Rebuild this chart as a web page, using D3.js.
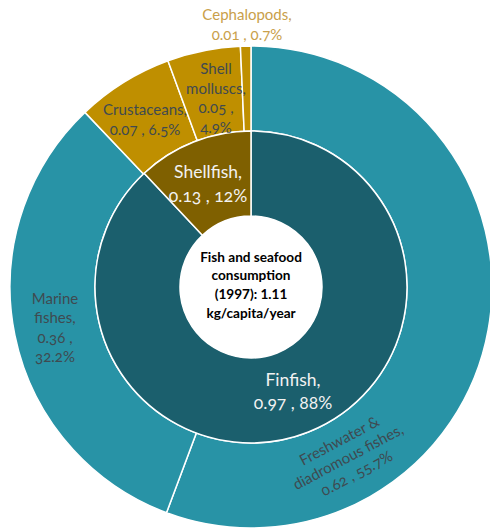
<!DOCTYPE html>
<html>
<head>
<meta charset="utf-8">
<script src="https://cdn.jsdelivr.net/npm/d3@7"></script>
<style>
  html, body { margin: 0; padding: 0; background: #ffffff; }
  svg { display: block; }
  .ring-label { font-variant-numeric: oldstyle-nums; }
</style>
</head>
<body>
<svg id="chart" width="490" height="531"></svg>
<script>
// Inner ring: main groups
const groups = ["Finfish", "Shellfish"];
const groupValues = [0.97, 0.13];
const groupShares = ["88%", "12%"];

// Outer ring: species groups, in the same clockwise order
const species = ["Freshwater & diadromous fishes", "Marine fishes", "Crustaceans", "Shell molluscs", "Cephalopods"];
const speciesValues = [0.62, 0.36, 0.07, 0.05, 0.01];
const speciesShares = [55.7, 32.2, 6.5, 4.9, 0.7];

const centerTitle = ["Fish and seafood", "consumption", "(1997): 1.11", "kg/capita/year"];

const groupColors = ["#1B5F6D", "#7F6000"];
const speciesColors = ["#2893A6", "#2893A6", "#BF8F00", "#BF8F00", "#BF8F00"];

const svg = d3.select("#chart");
const cx = 251, cy = 287;
const g = svg.append("g").attr("transform", `translate(${cx},${cy})`);

const rHole = 71, rInner = 156, rOuter = 241;

// Inner ring sized by percentage share
const innerPie = d3.pie().sort(null).value((d, i) => parseFloat(groupShares[i]));
const innerArcs = innerPie(groups);
const innerArc = d3.arc().innerRadius(rHole).outerRadius(rInner);

// Outer ring sized by percentage share
const outerPie = d3.pie().sort(null).value((d, i) => speciesShares[i]);
const outerArcs = outerPie(species);
const outerArc = d3.arc().innerRadius(rInner).outerRadius(rOuter);

g.selectAll("path.outer").data(outerArcs).join("path")
  .attr("class", "outer")
  .attr("d", outerArc)
  .attr("fill", (d, i) => speciesColors[i])
  .attr("stroke", "#ffffff")
  .attr("stroke-width", 1.5);

g.selectAll("path.inner").data(innerArcs).join("path")
  .attr("class", "inner")
  .attr("d", innerArc)
  .attr("fill", (d, i) => groupColors[i])
  .attr("stroke", "#ffffff")
  .attr("stroke-width", 1.5);

// Centre hole
g.append("circle").attr("r", rHole).attr("fill", "#ffffff");

const font = "Lato, 'Open Sans', sans-serif";

function block(x, y, lines, opts) {
  const t = svg.append("text")
    .attr("class", opts.cls || null)
    .attr("transform", `translate(${x},${y})` + (opts.rotate ? ` rotate(${opts.rotate})` : ""))
    .attr("text-anchor", "middle")
    .attr("font-family", font)
    .attr("font-size", opts.size)
    .attr("font-weight", opts.weight || "normal")
    .attr("fill", opts.color);
  const lh = opts.lh;
  const start = -(lines.length - 1) * lh / 2;
  lines.forEach((ln, i) => {
    t.append("tspan")
      .attr("x", 0)
      .attr("y", start + i * lh)
      .attr("dy", "0.35em")
      .text(ln);
  });
  return t;
}

const fmt = v => v.toFixed(2);
const outerLabel = "#3F4A50";

// Centre title
block(cx, 285, centerTitle, { size: 13.6, weight: "bold", color: "#000000", lh: 18.7 });

// Inner ring labels
block(293, 391, [groups[0] + ",", `${fmt(groupValues[0])} , ${groupShares[0]}`], { size: 17.5, color: "#F2F2F2", lh: 23, cls: "ring-label" });
block(208, 184, [groups[1] + ",", `${fmt(groupValues[1])} , ${groupShares[1]}`], { size: 17.5, color: "#F2F2F2", lh: 24, cls: "ring-label" });

// Outer ring labels
block(348, 457, ["Freshwater &", "diadromous fishes,", `${fmt(speciesValues[0])} , ${speciesShares[0]}%`],
  { size: 15, color: outerLabel, lh: 18.5, rotate: -28, cls: "ring-label" });
block(55, 327.5, ["Marine", "fishes,", `${fmt(speciesValues[1])} ,`, `${speciesShares[1]}%`],
  { size: 15, color: outerLabel, lh: 19.5, cls: "ring-label" });
block(145, 120, ["Crustaceans,", `${fmt(speciesValues[2])} , ${speciesShares[2]}%`],
  { size: 15, color: outerLabel, lh: 20, cls: "ring-label" });
block(216, 98, ["Shell", "molluscs,", `${fmt(speciesValues[3])} ,`, `${speciesShares[3]}%`],
  { size: 15, color: outerLabel, lh: 19.5, cls: "ring-label" });
block(247, 25, ["Cephalopods,", `${fmt(speciesValues[4])} , ${speciesShares[4]}%`],
  { size: 15, color: "#C9A04A", lh: 20, cls: "ring-label" });
</script>
</body>
</html>
